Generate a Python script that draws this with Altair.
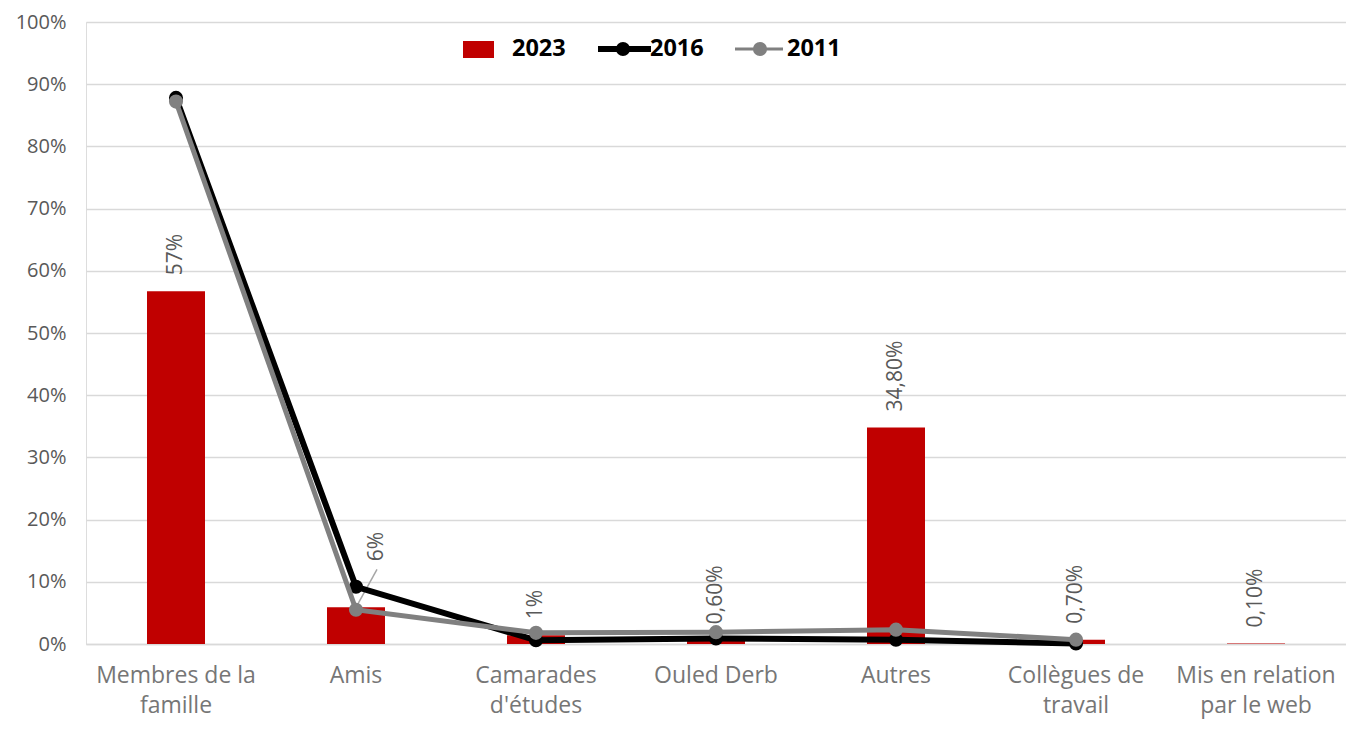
import altair as alt
import pandas as pd

# ---- data ----
categories = [
    "Membres de la\nfamille",
    "Amis",
    "Camarades\nd'études",
    "Ouled Derb",
    "Autres",
    "Collègues de\ntravail",
    "Mis en relation\npar le web",
]
values_2023 = [56.7, 5.9, 1.4, 0.6, 34.8, 0.7, 0.1]
labels_2023 = ["57%", "6%", "1%", "0,60%", "34,80%", "0,70%", "0,10%"]
values_2016 = [87.8, 9.2, 0.6, 0.9, 0.7, 0.1]
values_2011 = [87.2, 5.5, 1.8, 1.9, 2.3, 0.7]
series_names = ["2023", "2016", "2011"]
y_ticks = [0, 10, 20, 30, 40, 50, 60, 70, 80, 90, 100]

RED = "#C00000"
BLACK = "#000000"
GREY = "#808080"
FONT = "Open Sans"

bars_df = pd.DataFrame({"cat": categories, "val": values_2023, "label": labels_2023})
l16 = pd.DataFrame({"cat": categories[:len(values_2016)], "val": values_2016})
l11 = pd.DataFrame({"cat": categories[:len(values_2011)], "val": values_2011})

x_scale = alt.Scale(domain=categories, paddingInner=0, paddingOuter=0)
y_scale = alt.Scale(domain=[0, 100], nice=False)

x_enc = alt.X(
    "cat:N",
    scale=x_scale,
    sort=categories,
    title=None,
    axis=alt.Axis(
        labelAngle=0,
        labelExpr="split(datum.label, '\\n')",
        labelFont=FONT,
        labelFontSize=23,
        labelColor="#767676",
        labelLineHeight=30,
        labelPadding=20,
        ticks=False,
        grid=False,
        domainColor="#d9d9d9",
        domainWidth=1.5,
        labelLimit=300,
    ),
)
y_enc = alt.Y(
    "val:Q",
    scale=y_scale,
    title=None,
    axis=alt.Axis(
        values=y_ticks,
        labelExpr="datum.value + '%'",
        labelFont=FONT,
        labelFontSize=20,
        labelColor="#595959",
        labelPadding=20,
        grid=True,
        gridColor="#d9d9d9",
        gridWidth=1.3,
        domain=False,
        ticks=False,
    ),
)

base_bar = alt.Chart(bars_df)
bars = base_bar.mark_bar(color=RED, size=58).encode(x=x_enc, y=y_enc)

labels_main = base_bar.transform_filter(alt.datum.cat != "Amis").mark_text(
    angle=270, align="left", baseline="middle", dx=16, font=FONT, fontSize=21, color="#595959"
).encode(x=alt.X("cat:N", sort=categories), y="val:Q", text="label:N")

labels_amis = base_bar.transform_filter(alt.datum.cat == "Amis").mark_text(
    angle=270, align="left", baseline="middle", dx=46, dy=21, font=FONT, fontSize=21, color="#595959"
).encode(x=alt.X("cat:N", sort=categories), y="val:Q", text="label:N")

leader = base_bar.transform_filter(alt.datum.cat == "Amis").mark_rule(
    color="#a6a6a6", strokeWidth=1.5, x2Offset=21, y2Offset=-38
).encode(
    x=alt.X("cat:N", sort=categories, bandPosition=0.5),
    x2=alt.X2("cat", bandPosition=0.5),
    y="val:Q",
    y2="val",
)

line16 = alt.Chart(l16).mark_line(color=BLACK, strokeWidth=6).encode(
    x=alt.X("cat:N", sort=categories), y="val:Q"
)
pts16 = alt.Chart(l16).mark_circle(color=BLACK, size=200, opacity=1).encode(
    x=alt.X("cat:N", sort=categories), y="val:Q"
)
line11 = alt.Chart(l11).mark_line(color=GREY, strokeWidth=5).encode(
    x=alt.X("cat:N", sort=categories), y="val:Q"
)
pts11 = alt.Chart(l11).mark_circle(color=GREY, size=200, opacity=1).encode(
    x=alt.X("cat:N", sort=categories), y="val:Q"
)

# ---- manual legend ----
leg_df = pd.DataFrame({"name": series_names})
leg_base = alt.Chart(leg_df)
leg_rect = leg_base.transform_filter(alt.datum.name == series_names[0]).mark_rect(color=RED).encode(
    x=alt.value(377), x2=alt.value(408), y=alt.value(19), y2=alt.value(36)
)
leg_txt_kw = dict(align="left", baseline="middle", font=FONT, fontSize=23.5, fontWeight="bold", color="#000000")
leg_t1 = leg_base.transform_filter(alt.datum.name == series_names[0]).mark_text(**leg_txt_kw).encode(
    x=alt.value(426), y=alt.value(27), text="name:N"
)
leg_l2 = leg_base.transform_filter(alt.datum.name == series_names[1]).mark_rule(color=BLACK, strokeWidth=6).encode(
    x=alt.value(512), x2=alt.value(565), y=alt.value(27)
)
leg_p2 = leg_base.transform_filter(alt.datum.name == series_names[1]).mark_circle(color=BLACK, size=200, opacity=1).encode(
    x=alt.value(537), y=alt.value(27)
)
leg_t2 = leg_base.transform_filter(alt.datum.name == series_names[1]).mark_text(**leg_txt_kw).encode(
    x=alt.value(564), y=alt.value(27), text="name:N"
)
leg_l3 = leg_base.transform_filter(alt.datum.name == series_names[2]).mark_rule(color=GREY, strokeWidth=3).encode(
    x=alt.value(649), x2=alt.value(697), y=alt.value(27)
)
leg_p3 = leg_base.transform_filter(alt.datum.name == series_names[2]).mark_circle(color=GREY, size=200, opacity=1).encode(
    x=alt.value(674), y=alt.value(27)
)
leg_t3 = leg_base.transform_filter(alt.datum.name == series_names[2]).mark_text(**leg_txt_kw).encode(
    x=alt.value(701), y=alt.value(27), text="name:N"
)

chart = alt.layer(
    bars, leader, labels_main, labels_amis, line16, pts16, line11, pts11,
    leg_rect, leg_t1, leg_l2, leg_p2, leg_t2, leg_l3, leg_p3, leg_t3,
).properties(
    width=1260,
    height=622,
    autosize=alt.AutoSizeParams(type="none"),
    padding={"left": 78, "top": 14, "right": 0, "bottom": 78},
).configure_view(stroke=None).configure(background="white")

chart.save("out.html", embed_options={"renderer": "svg", "actions": False})
